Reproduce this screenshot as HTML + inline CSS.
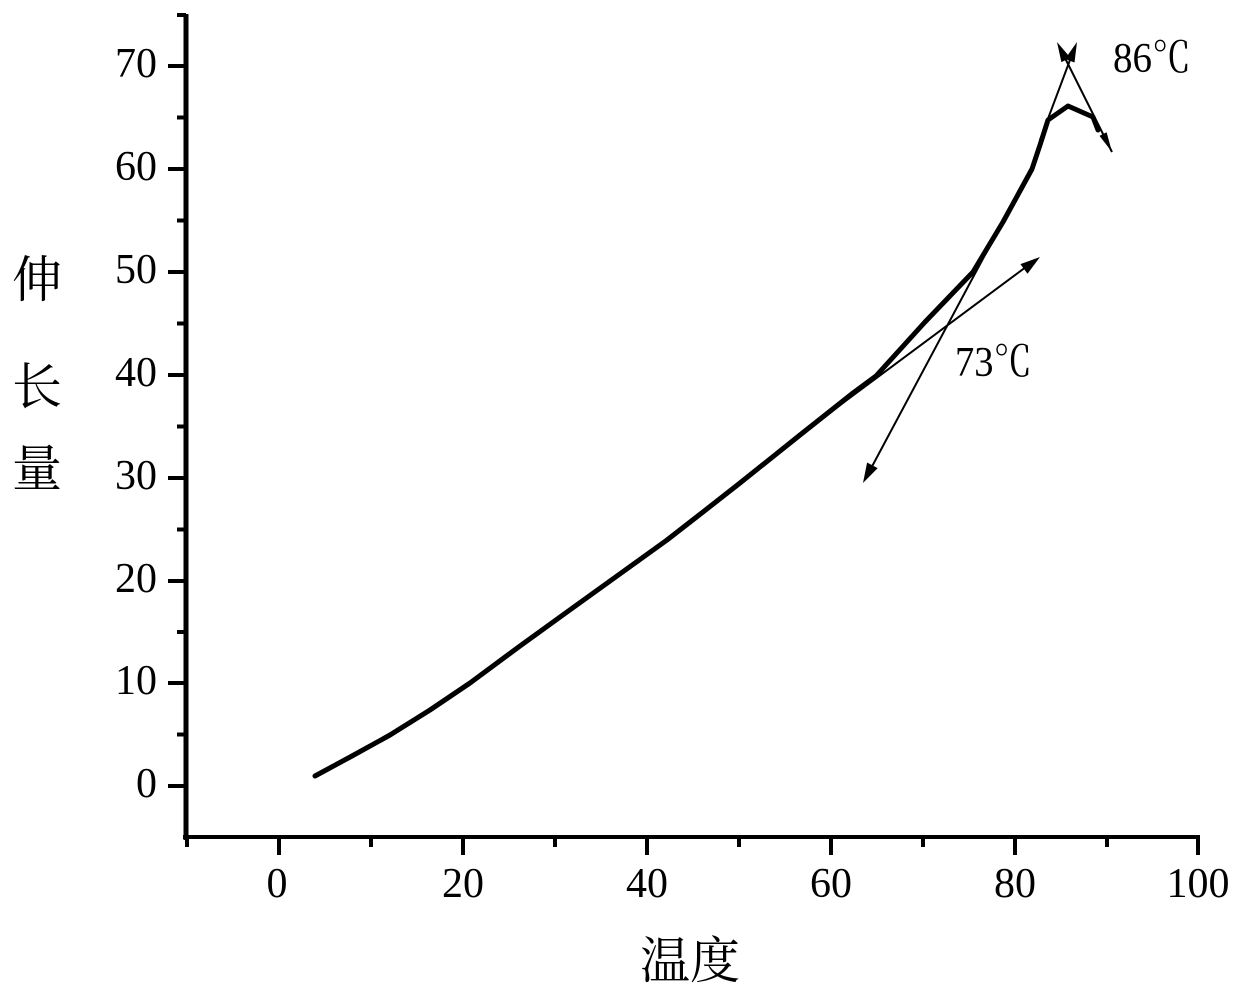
<!DOCTYPE html>
<html>
<head>
<meta charset="utf-8">
<style>
html,body{margin:0;padding:0;background:#fff;}
svg{display:block;}
text{fill:#000;}
.num{font-family:"Liberation Serif","Noto Serif CJK SC",serif;font-size:42px;}
.cjk{font-family:"Noto Serif CJK SC","Noto Sans CJK SC",serif;font-size:50px;}
</style>
</head>
<body>
<svg width="1240" height="998" viewBox="0 0 1240 998" xmlns="http://www.w3.org/2000/svg">
<rect width="1240" height="998" fill="#fff"/>
<!-- axes -->
<line x1="186" y1="14" x2="186" y2="840" stroke="#000" stroke-width="5"/>
<line x1="183" y1="837" x2="1200" y2="837" stroke="#000" stroke-width="4"/>
<!-- y ticks -->
<g stroke="#000" stroke-width="4">
<line x1="168" y1="786" x2="186" y2="786"/>
<line x1="168" y1="683" x2="186" y2="683"/>
<line x1="168" y1="581" x2="186" y2="581"/>
<line x1="168" y1="478" x2="186" y2="478"/>
<line x1="168" y1="375" x2="186" y2="375"/>
<line x1="168" y1="272" x2="186" y2="272"/>
<line x1="168" y1="169" x2="186" y2="169"/>
<line x1="168" y1="66" x2="186" y2="66"/>
<line x1="177" y1="734.5" x2="186" y2="734.5"/>
<line x1="177" y1="632" x2="186" y2="632"/>
<line x1="177" y1="529.5" x2="186" y2="529.5"/>
<line x1="177" y1="426.5" x2="186" y2="426.5"/>
<line x1="177" y1="323.5" x2="186" y2="323.5"/>
<line x1="177" y1="220.5" x2="186" y2="220.5"/>
<line x1="177" y1="117.5" x2="186" y2="117.5"/>
<line x1="177" y1="15" x2="186" y2="15"/>
</g>
<!-- x ticks -->
<g stroke="#000" stroke-width="4">
<line x1="279" y1="837" x2="279" y2="855"/>
<line x1="463" y1="837" x2="463" y2="855"/>
<line x1="647" y1="837" x2="647" y2="855"/>
<line x1="831" y1="837" x2="831" y2="855"/>
<line x1="1015" y1="837" x2="1015" y2="855"/>
<line x1="1198" y1="837" x2="1198" y2="855"/>
<line x1="371" y1="837" x2="371" y2="847"/>
<line x1="555" y1="837" x2="555" y2="847"/>
<line x1="739" y1="837" x2="739" y2="847"/>
<line x1="923" y1="837" x2="923" y2="847"/>
<line x1="1107" y1="837" x2="1107" y2="847"/>
<line x1="187" y1="837" x2="187" y2="847"/>
</g>
<!-- y tick labels -->
<g class="num" text-anchor="end">
<text x="157" y="797">0</text>
<text x="157" y="694">10</text>
<text x="157" y="592">20</text>
<text x="157" y="489">30</text>
<text x="157" y="386">40</text>
<text x="157" y="283">50</text>
<text x="157" y="180">60</text>
<text x="157" y="77">70</text>
</g>
<!-- x tick labels -->
<g class="num" text-anchor="middle">
<text x="277" y="897">0</text>
<text x="463" y="897">20</text>
<text x="647" y="897">40</text>
<text x="831" y="897">60</text>
<text x="1015" y="897">80</text>
<text x="1198" y="897">100</text>
</g>
<!-- axis titles -->
<g class="cjk" text-anchor="middle">
<text x="37" y="297">伸</text>
<text x="37" y="404">长</text>
<text x="37" y="486">量</text>
<text x="690" y="978">温度</text>
</g>
<!-- main curve -->
<polyline fill="none" stroke="#000" stroke-width="5" stroke-linejoin="round" stroke-linecap="round"
points="315,776 352,756 390,735 430,710 470,683 520,646 567,612 617,576 667,540 703,512 740,483 800,435 853,393 876,376 925,322 973,272 1003,222 1032,169 1040,145 1048,120 1068,106 1093,117 1098,130"/>
<!-- tangent lines -->
<g stroke="#000" stroke-width="2" fill="none">
<line x1="820" y1="420" x2="1030" y2="264"/>
<line x1="1025" y1="180" x2="868" y2="474"/>
<line x1="1040" y1="140" x2="1073" y2="52"/>
<line x1="1112" y1="152" x2="1061" y2="50"/>
</g>
<g fill="#000">
<polygon points="1040,257 1027.5,273.7 1020.4,264.1"/>
<polygon points="863,483 877.7,468.1 867.1,462.5"/>
<polygon points="1077,42 1074.5,62.5 1065.1,58.9"/>
<polygon points="1057,42 1070.4,57.7 1061.4,62.1"/>
<polygon points="1112,152 1106.6,132.3 1099.5,135.9"/>
</g>
<!-- annotations -->
<text class="num" x="1113" y="72" textLength="78" lengthAdjust="spacingAndGlyphs">86℃</text>
<text class="num" x="955" y="376" textLength="77" lengthAdjust="spacingAndGlyphs">73℃</text>
</svg>
</body>
</html>
